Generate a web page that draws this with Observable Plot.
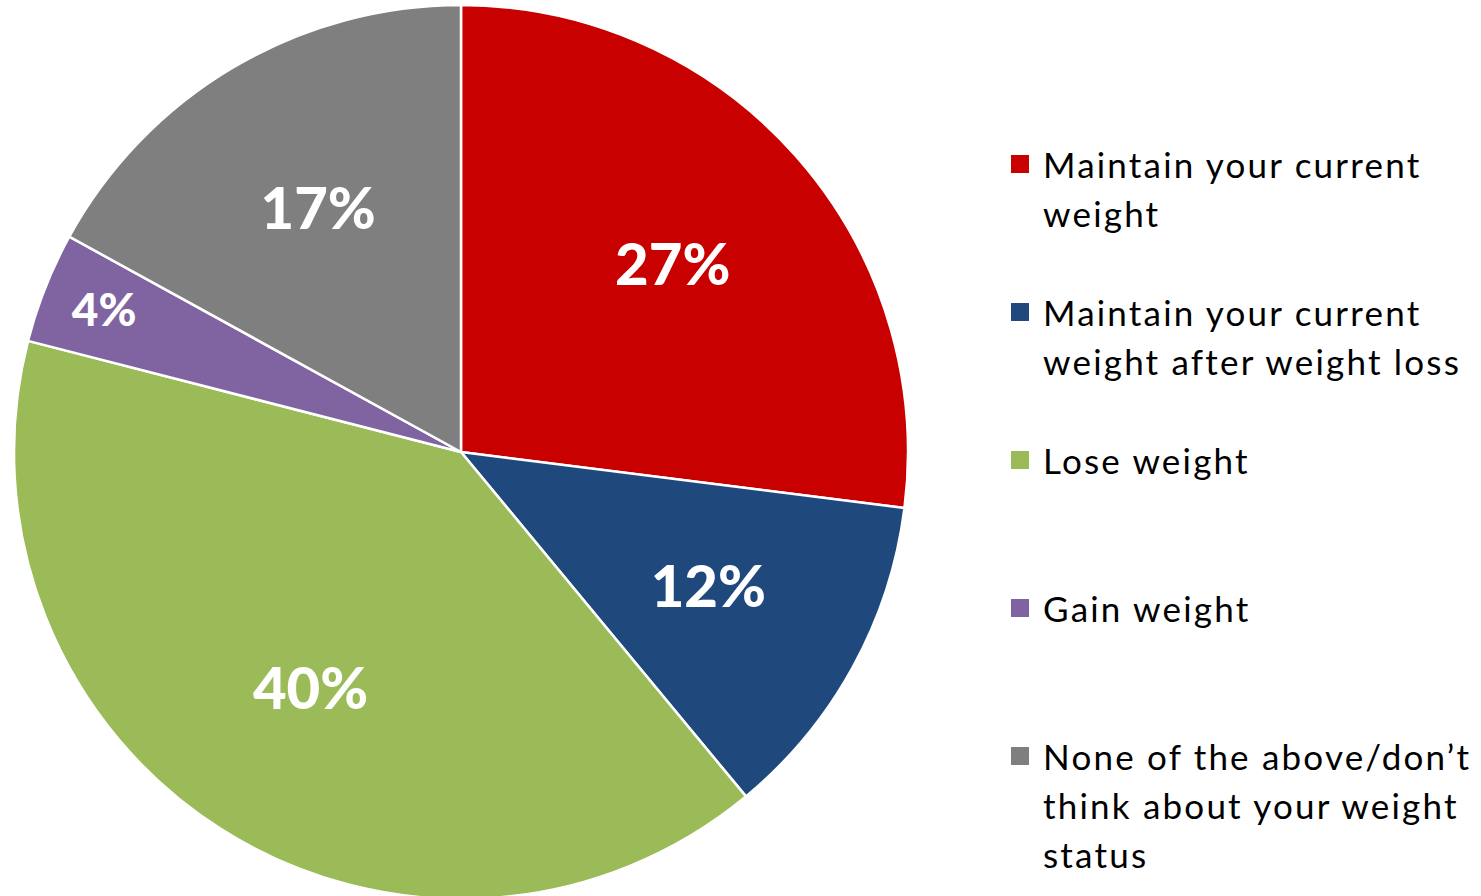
<!DOCTYPE html>
<html>
<head>
<meta charset="utf-8">
<script src="https://cdn.jsdelivr.net/npm/d3@7"></script>
<script src="https://cdn.jsdelivr.net/npm/@observablehq/plot@0.6"></script>
<style>
  html, body { margin: 0; padding: 0; background: #fff; }
  #wrap { position: relative; width: 1481px; height: 896px; overflow: hidden; }
  #chart { position: absolute; left: 0; top: 0; }
  #legend { position: absolute; left: 0; top: 0; font-family: Lato, "Open Sans", sans-serif; color: #000; }
  .item { position: absolute; left: 1011px; }
  .sw { position: absolute; left: 0; width: 18px; height: 18px; }
  .txt { position: absolute; left: 32px; font-size: 35px; letter-spacing: 2.2px; line-height: 49px; white-space: nowrap; }
</style>
</head>
<body>
<div id="wrap">
  <div id="chart"></div>
  <div id="legend"></div>
</div>
<script>
const categories = [
  "Maintain your current weight",
  "Maintain your current weight after weight loss",
  "Lose weight",
  "Gain weight",
  "None of the above/don’t think about your weight status"
];
const values = [27, 12, 40, 4, 17];
const valueLabels = ["27%", "12%", "40%", "4%", "17%"];
const colors = ["#C80000", "#1F497D", "#9BBB59", "#8064A2", "#7F7F7F"];
const legendLines = [
  ["Maintain your current", "weight"],
  ["Maintain your current", "weight after weight loss"],
  ["Lose weight"],
  ["Gain weight"],
  ["None of the above/don’t", "think about your weight", "status"]
];

const data = categories.map((c, i) => ({category: c, value: values[i], label: valueLabels[i]}));
const arcs = d3.pie().sort(null).value(d => d.value).startAngle(0)(data);
const mid = a => (a.startAngle + a.endAngle) / 2;
const labelR = a => (a.data.value < 10 ? 0.86 : 0.63);

const cx = 461, cy = 452, R = 447;

const chart = Plot.plot({
  width: 1481,
  height: 896,
  margin: 0,
  x: {domain: [-1, 1], range: [cx - R, cx + R], axis: null},
  y: {domain: [-1, 1], range: [cy + R, cy - R], axis: null},
  color: {domain: categories, range: colors},
  style: {background: "transparent"},
  marks: [
    Plot.dot(arcs, {
      x: () => 0,
      y: () => 0,
      fill: d => d.data.category,
      render(index, scales, values, dimensions, context) {
        const x0 = scales.x(0), y0 = scales.y(0);
        const r = scales.x(1) - scales.x(0);
        const arc = d3.arc().innerRadius(0).outerRadius(r);
        const g = d3.create("svg:g").attr("transform", `translate(${x0},${y0})`);
        g.selectAll("path")
          .data(arcs)
          .join("path")
          .attr("d", arc)
          .attr("fill", d => scales.color(d.data.category))
          .attr("stroke", "#fff")
          .attr("stroke-width", 2.5)
          .attr("stroke-linejoin", "round");
        return g.node();
      }
    }),
    Plot.text(arcs, {
      x: a => labelR(a) * Math.sin(mid(a)),
      y: a => labelR(a) * Math.cos(mid(a)),
      text: a => a.data.label,
      fill: "#fff",
      fontSize: a => (a.data.value < 10 ? 46 : 58),
      fontWeight: 900,
      fontFamily: "Lato, sans-serif",
      textAnchor: "middle",
      lineAnchor: "middle"
    })
  ]
});
document.getElementById("chart").appendChild(chart);

const legend = d3.select("#legend");
categories.forEach((c, i) => {
  const item = legend.append("div").attr("class", "item").style("top", (140 + 148 * i) + "px");
  item.append("div").attr("class", "sw").style("top", "15px").style("background", colors[i]);
  item.append("div").attr("class", "txt").style("top", "0px").html(legendLines[i].join("<br>"));
});
</script>
</body>
</html>
